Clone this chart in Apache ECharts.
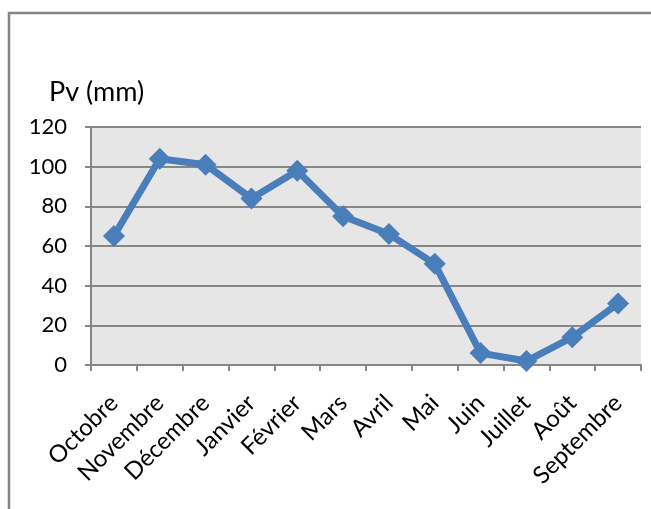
<!DOCTYPE html>
<html><head><meta charset="utf-8">
<script src="https://cdn.jsdelivr.net/npm/echarts@6/dist/echarts.min.js"></script>
<style>html,body{margin:0;padding:0;background:#fff}#c{width:651px;height:509px}</style>
</head><body><div id="c"></div>
<script>
const months = ['Octobre','Novembre','Décembre','Janvier','Février','Mars','Avril','Mai','Juin','Juillet','Août','Septembre'];
const pv = [65, 104, 101, 84, 98, 75, 66, 51, 6, 2, 14, 31];
const yTicks = {min: 0, max: 120, interval: 20};
const yName = 'Pv (mm)';

const FONT = 'Lato';
const chart = echarts.init(document.getElementById('c'), null, {renderer: 'canvas'});
chart.setOption({
  animation: false,
  backgroundColor: '#fff',
  textStyle: {fontFamily: FONT},
  graphic: [{
    type: 'rect', shape: {x: 9, y: 13, width: 700, height: 600},
    style: {fill: 'none', stroke: '#868686', lineWidth: 2.5}, silent: true
  }],
  title: {text: yName, left: 49, top: 79, padding: 0, textStyle: {fontFamily: FONT, fontSize: 27, fontWeight: 'normal', color: '#000'}},
  grid: {left: 91, right: 10, top: 127, bottom: 144, show: true, backgroundColor: '#e6e6e6', borderWidth: 0},
  xAxis: {
    type: 'category', data: months, boundaryGap: true,
    axisLine: {lineStyle: {color: '#868686', width: 2}},
    axisTick: {show: true, alignWithLabel: false, length: 6, lineStyle: {color: '#868686', width: 2}},
    axisLabel: {rotate: 45, interval: 0, margin: 34, fontSize: 24, color: '#000', fontFamily: FONT},
    splitLine: {show: false}
  },
  yAxis: {
    type: 'value', min: yTicks.min, max: yTicks.max, interval: yTicks.interval,
    axisLine: {show: true, lineStyle: {color: '#868686', width: 2}},
    axisTick: {show: true, length: 6, lineStyle: {color: '#868686', width: 2}},
    axisLabel: {margin: 24, fontSize: 22, color: '#000', fontFamily: FONT},
    splitLine: {show: true, lineStyle: {color: '#878787', width: 2}}
  },
  series: [{
    type: 'line', data: pv,
    lineStyle: {color: '#4a7ebb', width: 7},
    itemStyle: {color: '#4a7ebb'},
    symbol: 'path://M0,-1 L1,0 L0,1 L-1,0 Z', symbolSize: 22, showSymbol: true
  }]
});
</script></body></html>
